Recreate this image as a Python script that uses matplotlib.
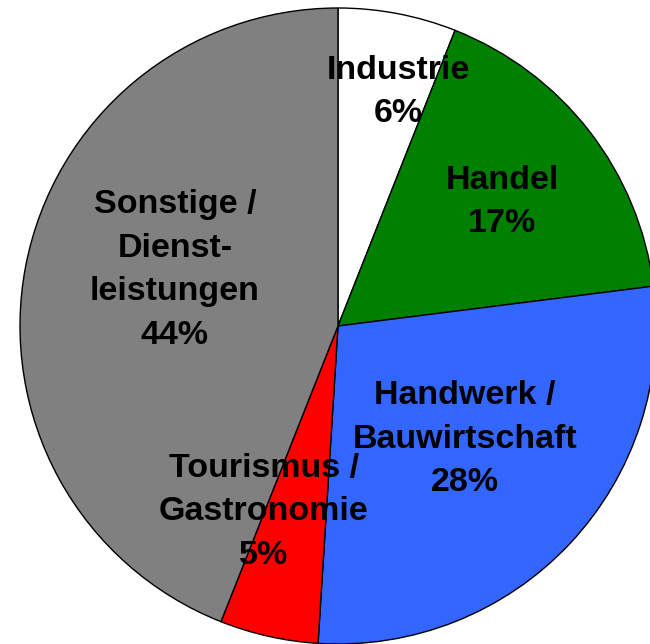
import matplotlib
matplotlib.use("Agg")
import matplotlib.pyplot as plt

categories = ["Industrie", "Handel", "Handwerk /\nBauwirtschaft",
              "Tourismus /\nGastronomie", "Sonstige /\nDienst-\nleistungen"]
shares = [6, 17, 28, 5, 44]
colors = ["#FFFFFF", "#008000", "#3366FF", "#FF0000", "#808080"]

# label block centres in pixel coordinates (style only)
label_px = [(398, 92), (502, 202), (465, 439), (264, 512), (175, 270)]

W, H = 650, 644
cx, cy, R = 338, 326, 318

fig = plt.figure(figsize=(W / 100, H / 100), dpi=100)
ax = fig.add_axes([0, 0, 1, 1])
ax.pie(shares, colors=colors, startangle=90, counterclock=False,
       radius=1.0, center=(0, 0),
       wedgeprops=dict(edgecolor="black", linewidth=1.0))
ax.set_xlim((0 - cx) / R, (W - cx) / R)
ax.set_ylim((cy - H) / R, (cy - 0) / R)
ax.set_aspect("auto")
ax.axis("off")

for cat, val, (px, py) in zip(categories, shares, label_px):
    ax.text((px - cx) / R, (cy - py) / R, f"{cat}\n{val}%",
            ha="center", va="center", multialignment="center",
            fontsize=24.5, fontweight="bold", family="Liberation Sans",
            linespacing=1.54, color="black")

fig.savefig("out.png", dpi=100)
